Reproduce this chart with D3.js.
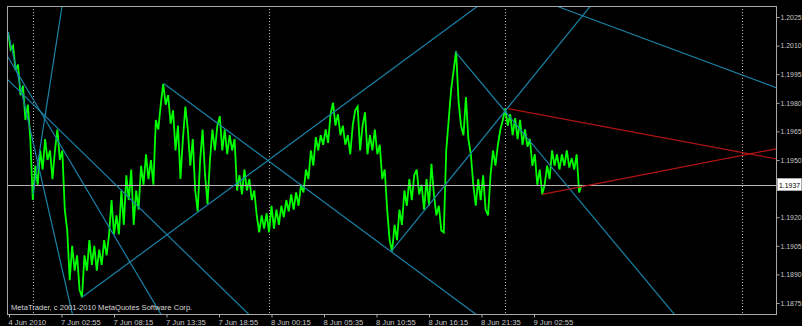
<!DOCTYPE html>
<html><head><meta charset="utf-8">
<script src="https://cdn.jsdelivr.net/npm/d3@7/dist/d3.min.js"></script>
<style>body{margin:0;background:#000;} svg{display:block;}</style>
</head><body>
<svg id="c" width="802" height="326"></svg>
<script>
// ---- data (time in trading hours relative to 7 Jun 2010 00:00) ----
const startHour = -2.5;     // first sample 4 Jun ~21:30
const stepHour = 0.25;      // one sample per 15 minutes
const closes = [
1.2017,1.2008,1.2010,1.1997,1.2000,1.1984,1.1989,1.1971,1.1979,1.1961,
1.1929,1.1947,1.1937,1.1955,1.1945,1.1961,1.1950,1.1955,1.1940,1.1955,
1.1966,1.1950,1.1955,1.1924,1.1913,1.1887,1.1905,1.1892,1.1900,1.1882,
1.1878,1.1900,1.1892,1.1908,1.1895,1.1905,1.1892,1.1903,1.1895,1.1908,
1.1900,1.1911,1.1929,1.1911,1.1921,1.1911,1.1934,1.1916,1.1942,1.1929,
1.1945,1.1916,1.1934,1.1924,1.1947,1.1937,1.1953,1.1940,1.1950,1.1937,
1.1971,1.1966,1.1979,1.1990,1.1979,1.1984,1.1969,1.1976,1.1955,1.1968,
1.1940,1.1961,1.1978,1.1966,1.1947,1.1961,1.1934,1.1923,1.1950,1.1966,
1.1942,1.1927,1.1950,1.1966,1.1955,1.1968,1.1973,1.1955,1.1966,1.1953,
1.1963,1.1955,1.1961,1.1934,1.1942,1.1932,1.1945,1.1934,1.1940,1.1929,
1.1934,1.1921,1.1912,1.1921,1.1914,1.1922,1.1912,1.1926,1.1914,1.1924,
1.1916,1.1926,1.1920,1.1929,1.1923,1.1932,1.1924,1.1933,1.1926,1.1937,
1.1933,1.1945,1.1940,1.1955,1.1947,1.1962,1.1955,1.1963,1.1958,1.1966,
1.1959,1.1974,1.1980,1.1968,1.1974,1.1963,1.1968,1.1958,1.1963,1.1953,
1.1968,1.1976,1.1978,1.1955,1.1968,1.1975,1.1953,1.1963,1.1955,1.1966,
1.1953,1.1958,1.1940,1.1945,1.1924,1.1908,1.1902,1.1916,1.1908,1.1924,
1.1916,1.1934,1.1926,1.1940,1.1929,1.1942,1.1945,1.1932,1.1937,1.1924,
1.1940,1.1926,1.1948,1.1932,1.1921,1.1926,1.1913,1.1912,1.1955,1.1971,
1.1987,1.1997,1.2007,1.1981,1.1968,1.1963,1.1983,1.1961,1.1953,1.1937,
1.1926,1.1940,1.1929,1.1942,1.1924,1.1921,1.1942,1.1955,1.1947,1.1958,
1.1966,1.1971,1.1977,1.1968,1.1974,1.1963,1.1972,1.1961,1.1971,1.1958,
1.1966,1.1957,1.1961,1.1947,1.1953,1.1937,1.1945,1.1932,1.1937,1.1947,
1.1940,1.1955,1.1947,1.1953,1.1945,1.1953,1.1947,1.1955,1.1946,1.1951,
1.1945,1.1953,1.1933,1.1937
];
const priceTicks = [1.2025,1.2010,1.1995,1.1980,1.1965,1.1950,1.1920,1.1905,1.1890,1.1875];
const timeTickHours = [-2.4167,2.9167,8.25,13.5833,18.9167,24.25,29.5833,34.9167,40.25,45.5833,50.9167];
const timeTickLabels = ["4 Jun 2010","7 Jun 02:55","7 Jun 08:15","7 Jun 13:35","7 Jun 18:55","8 Jun 00:15","8 Jun 05:35","8 Jun 10:55","8 Jun 16:15","8 Jun 21:35","9 Jun 02:55"];
const separatorHours = [0,24,48,72];
const currentPrice = 1.1937;
// trend lines: [hour1, price1, hour2, price2] (rays extended to the right)
const cyanLines = [
  [-2.52,1.2017, 1.95,1.1916],
  [-2.52,1.2004, 12.11,1.1877],
  [-2.52,1.1992, 16.98,1.1894],
  [0.02,1.1932, 2.59,1.2018],
  [5.00,1.1878, 42.38,1.2020],
  [13.33,1.1990, 36.39,1.1902],
  [36.39,1.1902, 50.71,1.1993],
  [42.89,1.2007, 56.30,1.1924],
  [53.05,1.2031, 75.50,1.1988]
];
const redLines = [
  [48.27,1.1977, 62.70,1.1963],
  [51.73,1.1932, 62.70,1.1943]
];
const watermark = "MetaTrader, c 2001-2010 MetaQuotes Software Corp.";

// ---- drawing ----
const L = 7, R = 776, T = 6, B = 314;
const svg = d3.select("#c");
svg.append("rect").attr("width",802).attr("height",326).attr("fill","#000");
const x = d3.scaleLinear().domain([-2.62, 75.5]).range([L, R]);
const y = d3.scaleLinear().domain([1.186923, 1.203077]).range([B, T]);
const font = "'Liberation Sans', Arial, sans-serif";
const txt = "#c8c8c8";

svg.append("clipPath").attr("id","clip").append("rect")
  .attr("x",L).attr("y",T).attr("width",R-L).attr("height",B-T);
const g = svg.append("g").attr("clip-path","url(#clip)");

// period separators
g.selectAll("line.sep").data(separatorHours).join("line")
  .attr("x1",d=>Math.round(x(d))+0.5).attr("x2",d=>Math.round(x(d))+0.5)
  .attr("y1",T).attr("y2",B)
  .attr("stroke","#bdbdbd").attr("stroke-width",1).attr("stroke-dasharray","1,2");

// price line
const line = d3.line().x((d,i)=>x(startHour+i*stepHour)).y(d=>y(d));
g.append("path").datum(closes).attr("d",line)
  .attr("fill","none").attr("stroke","#00ff00").attr("stroke-width",1.8).attr("stroke-linejoin","miter");

// current price line
g.append("line").attr("x1",L).attr("x2",R)
  .attr("y1",Math.round(y(currentPrice))+0.5).attr("y2",Math.round(y(currentPrice))+0.5)
  .attr("stroke","#b4b4b4").attr("stroke-width",1);

function ray(d){
  const [h1,p1,h2,p2] = d;
  const he = 80;
  const pe = p1 + (p2-p1)*(he-h1)/(h2-h1);
  return [x(h1), y(p1), x(he), y(pe)];
}
g.selectAll("line.cy").data(cyanLines).join("line")
  .attr("x1",d=>ray(d)[0]).attr("y1",d=>ray(d)[1]).attr("x2",d=>ray(d)[2]).attr("y2",d=>ray(d)[3])
  .attr("stroke","#1b82a8").attr("stroke-width",1.2);
g.selectAll("line.rd").data(redLines).join("line")
  .attr("x1",d=>ray(d)[0]).attr("y1",d=>ray(d)[1]).attr("x2",d=>ray(d)[2]).attr("y2",d=>ray(d)[3])
  .attr("stroke","#b01414").attr("stroke-width",1.2);

// watermark
svg.append("text").attr("x",11).attr("y",310).text(watermark)
  .attr("font-family",font).attr("font-size","7.6px").attr("fill","#d8d8d8");

// frame
svg.append("rect").attr("x",L+0.5).attr("y",T+0.5).attr("width",R-L).attr("height",B-T)
  .attr("fill","none").attr("stroke","#a8a8a8").attr("stroke-width",1);

// right axis
const ya = svg.append("g").attr("transform",`translate(${R+0.5},0)`)
  .call(d3.axisRight(y).tickValues(priceTicks).tickSize(3).tickPadding(1).tickFormat(d3.format(".4f")));
ya.select(".domain").remove();
ya.selectAll("line").attr("stroke","#a8a8a8");
ya.selectAll("text").attr("fill",txt).attr("font-family",font).attr("font-size","6.9px");

// current price box
const cy = Math.round(y(currentPrice));
svg.append("rect").attr("x",777.5).attr("y",cy-6.5).attr("width",24).attr("height",12)
  .attr("fill","#fff").attr("stroke","#a8a8a8");
svg.append("text").attr("x",779).attr("y",cy+3).text(d3.format(".4f")(currentPrice))
  .attr("font-family",font).attr("font-size","6.9px").attr("fill","#000");

// bottom axis
const xa = svg.append("g").attr("transform",`translate(0,${B+0.5})`)
  .call(d3.axisBottom(x).tickValues(timeTickHours).tickSize(3).tickPadding(2).tickFormat((d,i)=>timeTickLabels[i]));
xa.select(".domain").remove();
xa.selectAll("line").attr("stroke","#a8a8a8");
xa.selectAll("text").attr("fill",txt).attr("font-family",font).attr("font-size","7.6px")
  .attr("text-anchor","start").attr("dx","-1");
</script>
</body></html>
